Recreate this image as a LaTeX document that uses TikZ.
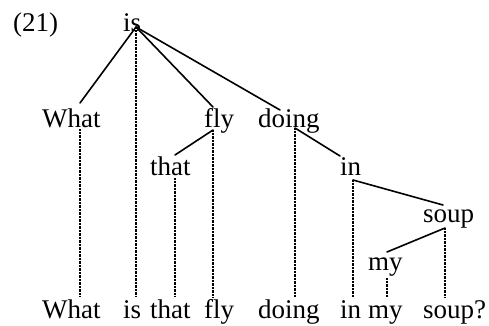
\documentclass[tikz,border=0pt]{standalone}
\usepackage{fontspec}
\setmainfont{Liberation Serif}
\begin{document}
\begin{tikzpicture}[x=1pt,y=-1pt,
  word/.style={anchor=base west, inner sep=0pt, font=\fontsize{27}{30}\selectfont},
  leaf/.style={word, text height=21pt},
  tree/.style={line width=1.6pt, line cap=round},
  proj/.style={line width=1.3pt, dash pattern=on 0.8pt off 0.6pt}]
\useasboundingbox (0,0) rectangle (489,326);
% label
\node[word] (num) at (13,32) {(21)};
% tree words
\node[word] (is) at (123,32) {is};
\node[word] (what) at (42,127) {What};
\node[word] (fly) at (204,127) {fly};
\node[word] (doing) at (258,127) {doing};
\node[word] (that) at (150,175) {that};
\node[word] (in) at (340,175) {in};
\node[word] (soup) at (423,222) {soup};
\node[word] (my) at (368,270) {my};
% sentence
\node[leaf] (bWhat) at (42,318) {What};
\node[leaf] (bIs) at (123,318) {is};
\node[leaf] (bThat) at (150,318) {that};
\node[leaf] (bFly) at (204,318) {fly};
\node[leaf] (bDoing) at (258,318) {doing};
\node[leaf] (bIn) at (340,318) {in};
\node[leaf] (bMy) at (368,318) {my};
\node[leaf] (bSoup) at (423,318) {soup?};
% attachment points
\coordinate (isB) at (136,27);
\coordinate (whatT) at (80,103);
\coordinate (whatB) at (80,129);
\coordinate (flyT) at (213,107);
\coordinate (flyB) at (213,130);
\coordinate (doingT) at (280,110);
\coordinate (doingB) at (295,128);
\coordinate (thatT) at (175,155);
\coordinate (thatB) at (175,178);
\coordinate (inT) at (340,156);
\coordinate (inB) at (353,180);
\coordinate (soupT) at (443,205);
\coordinate (soupB) at (445,228);
\coordinate (myT) at (387,252);
\coordinate (myB) at (387,278);
% dependency edges
\draw[tree] (isB) -- (whatT);
\draw[tree] (isB) -- (flyT);
\draw[tree] (isB) -- (doingT);
\draw[tree] (flyB) -- (thatT);
\draw[tree] (doingB) -- (inT);
\draw[tree] (inB) -- (soupT);
\draw[tree] (soupB) -- (myT);
% projection lines
\draw[proj] (whatB) -- (whatB |- bWhat.north);
\draw[proj] (isB) -- (isB |- bIs.north);
\draw[proj] (thatB) -- (thatB |- bThat.north);
\draw[proj] (flyB) -- (flyB |- bFly.north);
\draw[proj] (doingB) -- (doingB |- bDoing.north);
\draw[proj] (inB) -- (inB |- bIn.north);
\draw[proj] (myB) -- (myB |- bMy.north);
\draw[proj] (soupB) -- (soupB |- bSoup.north);
\end{tikzpicture}
\end{document}
